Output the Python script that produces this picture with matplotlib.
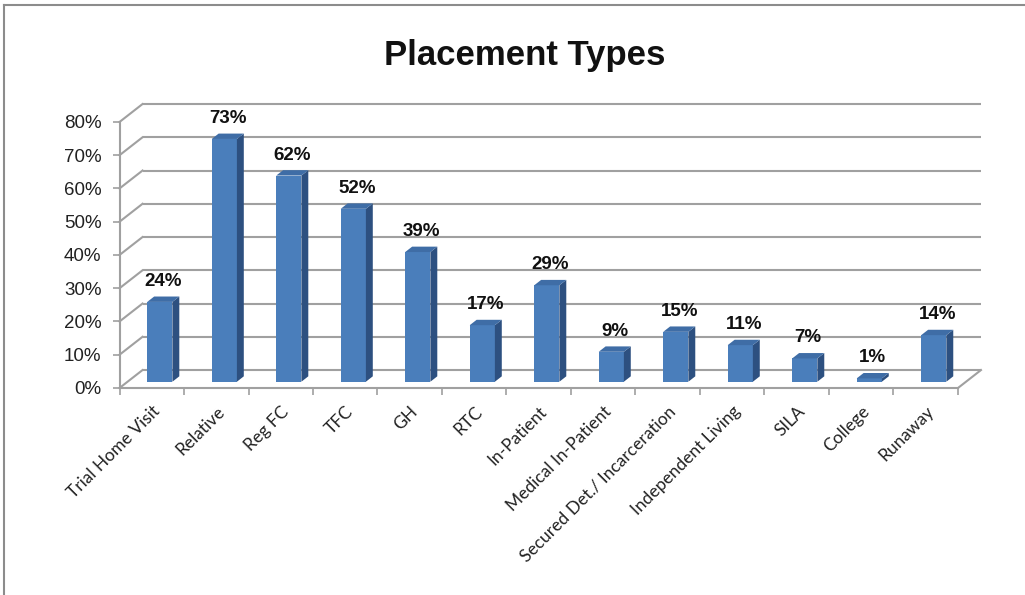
import matplotlib
matplotlib.use("Agg")
import matplotlib.pyplot as plt
from matplotlib.patches import Polygon
from matplotlib.lines import Line2D
import numpy as np

# ── Data ──────────────────────────────────────────────────────────────────────

CATEGORIES = [
    "Trial Home Visit", "Relative", "Reg FC", "TFC", "GH", "RTC",
    "In-Patient", "Medical In-Patient", "Secured Det./ Incarceration",
    "Independent Living", "SILA", "College", "Runaway",
]
VALUES = [24, 73, 62, 52, 39, 17, 29, 9, 15, 11, 7, 1, 14]
Y_TICKS = [0, 10, 20, 30, 40, 50, 60, 70, 80]

# ── Style ─────────────────────────────────────────────────────────────────────

FRONT = "#4A7EBB"
SIDE = "#2D5080"
TOP = "#3F6DA6"
GRID = "#A0A0A0"

DX, DY = 0.357, 5.4          # depth of the 3-D box in data units
BAR_W = 0.39
F0, F1 = 0.35, 0.65          # bar front/back position inside the depth

plt.rcParams["font.family"] = ["Liberation Sans", "DejaVu Sans"]

fig = plt.figure(figsize=(10.25, 5.95), dpi=100)
ax = fig.add_axes([0.1166, 0.3479, 0.818, 0.4471])
ax.set_xlim(0, len(CATEGORIES))
ax.set_ylim(0, 80)
n = len(CATEGORIES)

# back wall gridlines, left wall slants, floor edge
for t in Y_TICKS:
    ax.plot([DX, n + DX], [t + DY, t + DY], color=GRID,
            lw=1.5, clip_on=False, zorder=1, solid_capstyle="butt")
    ax.plot([0, DX], [t, t + DY], color=GRID, lw=1.5, clip_on=False, zorder=1)
ax.plot([n, n + DX], [0, DY], color=GRID, lw=1.5, clip_on=False, zorder=1)

# bars: front face from ax.bar, side and top faces as polygons
xs = np.arange(n) + 0.5 + F0 * DX
ax.bar(xs, VALUES, width=BAR_W, bottom=F0 * DY, color=FRONT, zorder=3,
       linewidth=0)
d_x, d_y = (F1 - F0) * DX, (F1 - F0) * DY
for x, v in zip(xs, VALUES):
    x0, x1 = x - BAR_W / 2, x + BAR_W / 2
    y0, y1 = F0 * DY, F0 * DY + v
    side = Polygon([(x1, y0), (x1 + d_x, y0 + d_y), (x1 + d_x, y1 + d_y),
                    (x1, y1)], closed=True, facecolor=SIDE, lw=0,
                   zorder=3, clip_on=False)
    top = Polygon([(x0, y1), (x1, y1), (x1 + d_x, y1 + d_y),
                   (x0 + d_x, y1 + d_y)], closed=True, facecolor=TOP, lw=0,
                  zorder=3, clip_on=False)
    ax.add_patch(side)
    ax.add_patch(top)
    ax.text(x + d_x / 2, v + F1 * DY + 2.0, f"{v}%", ha="center",
            va="bottom", fontsize=13.5, fontweight="bold", color="#111111",
            clip_on=False, zorder=4)

# axes
for s in ("top", "right"):
    ax.spines[s].set_visible(False)
for s in ("left", "bottom"):
    ax.spines[s].set_color(GRID)
    ax.spines[s].set_linewidth(1.5)
    ax.spines[s].set_zorder(2)

ax.set_yticks(Y_TICKS)
ax.set_yticklabels([f"{t}%" for t in Y_TICKS], fontsize=13.5, color="#222222")
ax.tick_params(axis="y", length=5, color=GRID, width=1.2, pad=8)

ax.set_xticks(np.arange(n + 1))
ax.set_xticklabels([])
ax.tick_params(axis="x", which="major", length=5, color=GRID, width=1.2)
ax.set_xticks(np.arange(n) + 0.5, minor=True)
ax.set_xticklabels(CATEGORIES, minor=True, rotation=45, ha="right",
                   rotation_mode="anchor", fontsize=12.5, family="Lato",
                   color="#222222")
ax.tick_params(axis="x", which="minor", length=0, pad=11)

fig.text(0.512, 0.906, "Placement Types", ha="center", va="center",
         fontsize=25, fontweight="bold", color="#111111")

# outer frame (left and top edges)
fig.add_artist(Line2D([0.004, 0.004], [0, 0.992], color="#8C8C8C", lw=1.5))
fig.add_artist(Line2D([0.004, 1], [0.992, 0.992], color="#8C8C8C", lw=1.5))

fig.savefig("out.png", dpi=100)
